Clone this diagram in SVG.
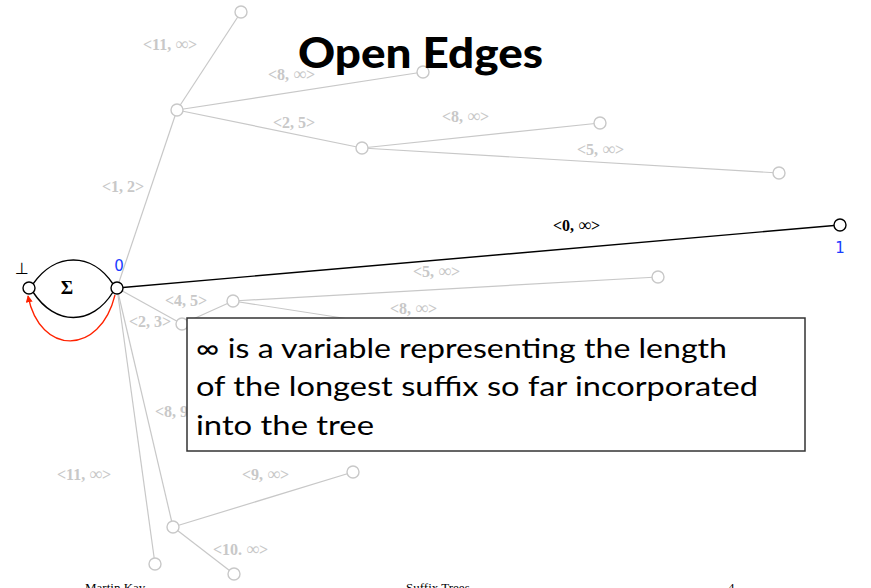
<svg xmlns="http://www.w3.org/2000/svg" width="871" height="588" viewBox="0 0 871 588">
<style>
.g{stroke:#c8c8c8;stroke-width:1.2;fill:none}
.gn{stroke:#c8c8c8;stroke-width:1.4;fill:#fff}
.bn{stroke:#000;stroke-width:1.4;fill:#fff}
.gl{font-family:"Liberation Serif",serif;font-weight:bold;font-size:16px;fill:#c8c8c8}
.bl{font-family:"Liberation Serif",serif;font-weight:bold;font-size:16px;fill:#000}
.inf{font-weight:normal;font-size:18px}
.num{font-family:"DejaVu Sans",sans-serif;font-size:15px;fill:#1a3cff;text-anchor:middle}
.box{font-family:"Lato",sans-serif;font-size:27px;fill:#000}
.foot{font-family:"Liberation Serif",serif;font-size:13px;fill:#000}
</style>
<defs>
<marker id="ra" viewBox="0 0 10 10" refX="9" refY="5" markerWidth="7" markerHeight="7" orient="auto" markerUnits="userSpaceOnUse">
<path d="M0,0 L10,5 L0,10 z" fill="#ff2200"/>
</marker>
</defs>
<rect width="871" height="588" fill="#fff"/>
<g id="connectors">
<line class="g" x1="117" y1="288" x2="177" y2="110"/>
<line class="g" x1="177" y1="110" x2="241" y2="12"/>
<line class="g" x1="177" y1="110" x2="423" y2="72"/>
<line class="g" x1="177" y1="110" x2="362" y2="148"/>
<line class="g" x1="362" y1="148" x2="600" y2="123"/>
<line class="g" x1="362" y1="148" x2="779" y2="173"/>
<line class="g" x1="117" y1="288" x2="182" y2="324"/>
<line class="g" x1="182" y1="324" x2="233" y2="301"/>
<line class="g" x1="233" y1="301" x2="658" y2="277"/>
<line class="g" x1="233" y1="301" x2="420" y2="330"/>
<line class="g" x1="117" y1="288" x2="155" y2="564"/>
<line class="g" x1="117" y1="288" x2="173" y2="527"/>
<line class="g" x1="173" y1="527" x2="353" y2="472"/>
<line class="g" x1="173" y1="527" x2="234" y2="574"/>
<line x1="117" y1="288" x2="840" y2="225" stroke="#000" stroke-width="1.4"/>
<path d="M33,284 C55,252 92,252 113,284" fill="none" stroke="#000" stroke-width="1.4"/>
<path d="M33,292 C55,326 92,326 113,292" fill="none" stroke="#000" stroke-width="1.4"/>
<path d="M115,295 C100,356 40,356 28,296" fill="none" stroke="#ff2200" stroke-width="1.3" marker-end="url(#ra)"/>
</g>
<g id="labels">
<text class="gl" x="143" y="50">&lt;11, <tspan class="inf">∞</tspan>&gt;</text>
<text class="gl" x="268" y="80">&lt;8, <tspan class="inf">∞</tspan>&gt;</text>
<text class="gl" x="273" y="128">&lt;2, 5&gt;</text>
<text class="gl" x="102" y="192">&lt;1, 2&gt;</text>
<text class="gl" x="442" y="122">&lt;8, <tspan class="inf">∞</tspan>&gt;</text>
<text class="gl" x="577" y="155">&lt;5, <tspan class="inf">∞</tspan>&gt;</text>
<text class="bl" x="553" y="231">&lt;0, <tspan class="inf">∞</tspan>&gt;</text>
<text class="gl" x="165" y="306">&lt;4, 5&gt;</text>
<text class="gl" x="129" y="327">&lt;2, 3&gt;</text>
<text class="gl" x="413" y="277">&lt;5, <tspan class="inf">∞</tspan>&gt;</text>
<text class="gl" x="390" y="314">&lt;8, <tspan class="inf">∞</tspan>&gt;</text>
<text class="gl" x="155" y="417">&lt;8, 9&gt;</text>
<text class="gl" x="57" y="480">&lt;11, <tspan class="inf">∞</tspan>&gt;</text>
<text class="gl" x="242" y="480">&lt;9, <tspan class="inf">∞</tspan>&gt;</text>
<text class="gl" x="213" y="555">&lt;10. <tspan class="inf">∞</tspan>&gt;</text>
</g>
<g id="node-top"><circle class="gn" cx="241" cy="12" r="6"/></g>
<g id="node-a"><circle class="gn" cx="177" cy="110" r="6"/></g>
<g id="node-a2"><circle class="gn" cx="423" cy="72" r="6"/></g>
<g id="node-b"><circle class="gn" cx="362" cy="148" r="6"/></g>
<g id="node-b1"><circle class="gn" cx="600" cy="123" r="6"/></g>
<g id="node-b2"><circle class="gn" cx="779" cy="173" r="6"/></g>
<g id="node-c"><circle class="gn" cx="233" cy="301" r="6"/></g>
<g id="node-d"><circle class="gn" cx="182" cy="324" r="6"/></g>
<g id="node-c1"><circle class="gn" cx="658" cy="277" r="6"/></g>
<g id="node-e"><circle class="gn" cx="155" cy="564" r="6"/></g>
<g id="node-f"><circle class="gn" cx="173" cy="527" r="6"/></g>
<g id="node-f1"><circle class="gn" cx="353" cy="472" r="6"/></g>
<g id="node-f2"><circle class="gn" cx="234" cy="574" r="6"/></g>
<g id="node-bottom"><circle class="bn" cx="29" cy="288" r="6"/>
<text x="22" y="274" font-family="DejaVu Sans,sans-serif" font-size="16" text-anchor="middle">⊥</text></g>
<g id="node-0"><circle class="bn" cx="117" cy="288" r="6"/>
<text class="num" x="119" y="271">0</text></g>
<g id="node-1"><circle class="bn" cx="840" cy="225" r="6"/>
<text class="num" x="840" y="253">1</text></g>
<text x="67" y="294" font-family="Liberation Serif,serif" font-weight="bold" font-size="19" text-anchor="middle">Σ</text>
<g id="title"><text x="298" y="68" font-family="Lato,sans-serif" font-weight="900" font-size="42" textLength="245" lengthAdjust="spacingAndGlyphs">Open Edges</text></g>
<g id="note">
<rect x="187" y="318" width="618" height="133" fill="#fff" stroke="#333" stroke-width="1.5"/>
<text class="box" x="196" y="358" textLength="531" lengthAdjust="spacingAndGlyphs">∞ is a variable representing the length</text>
<text class="box" x="196" y="396" textLength="562" lengthAdjust="spacingAndGlyphs">of the longest suffix so far incorporated</text>
<text class="box" x="196" y="435" textLength="178" lengthAdjust="spacingAndGlyphs">into the tree</text>
</g>
<g id="footer">
<text class="foot" x="85" y="592">Martin Kay</text>
<text class="foot" x="406" y="592">Suffix Trees</text>
<text class="foot" x="728" y="592">4</text>
</g>
</svg>
